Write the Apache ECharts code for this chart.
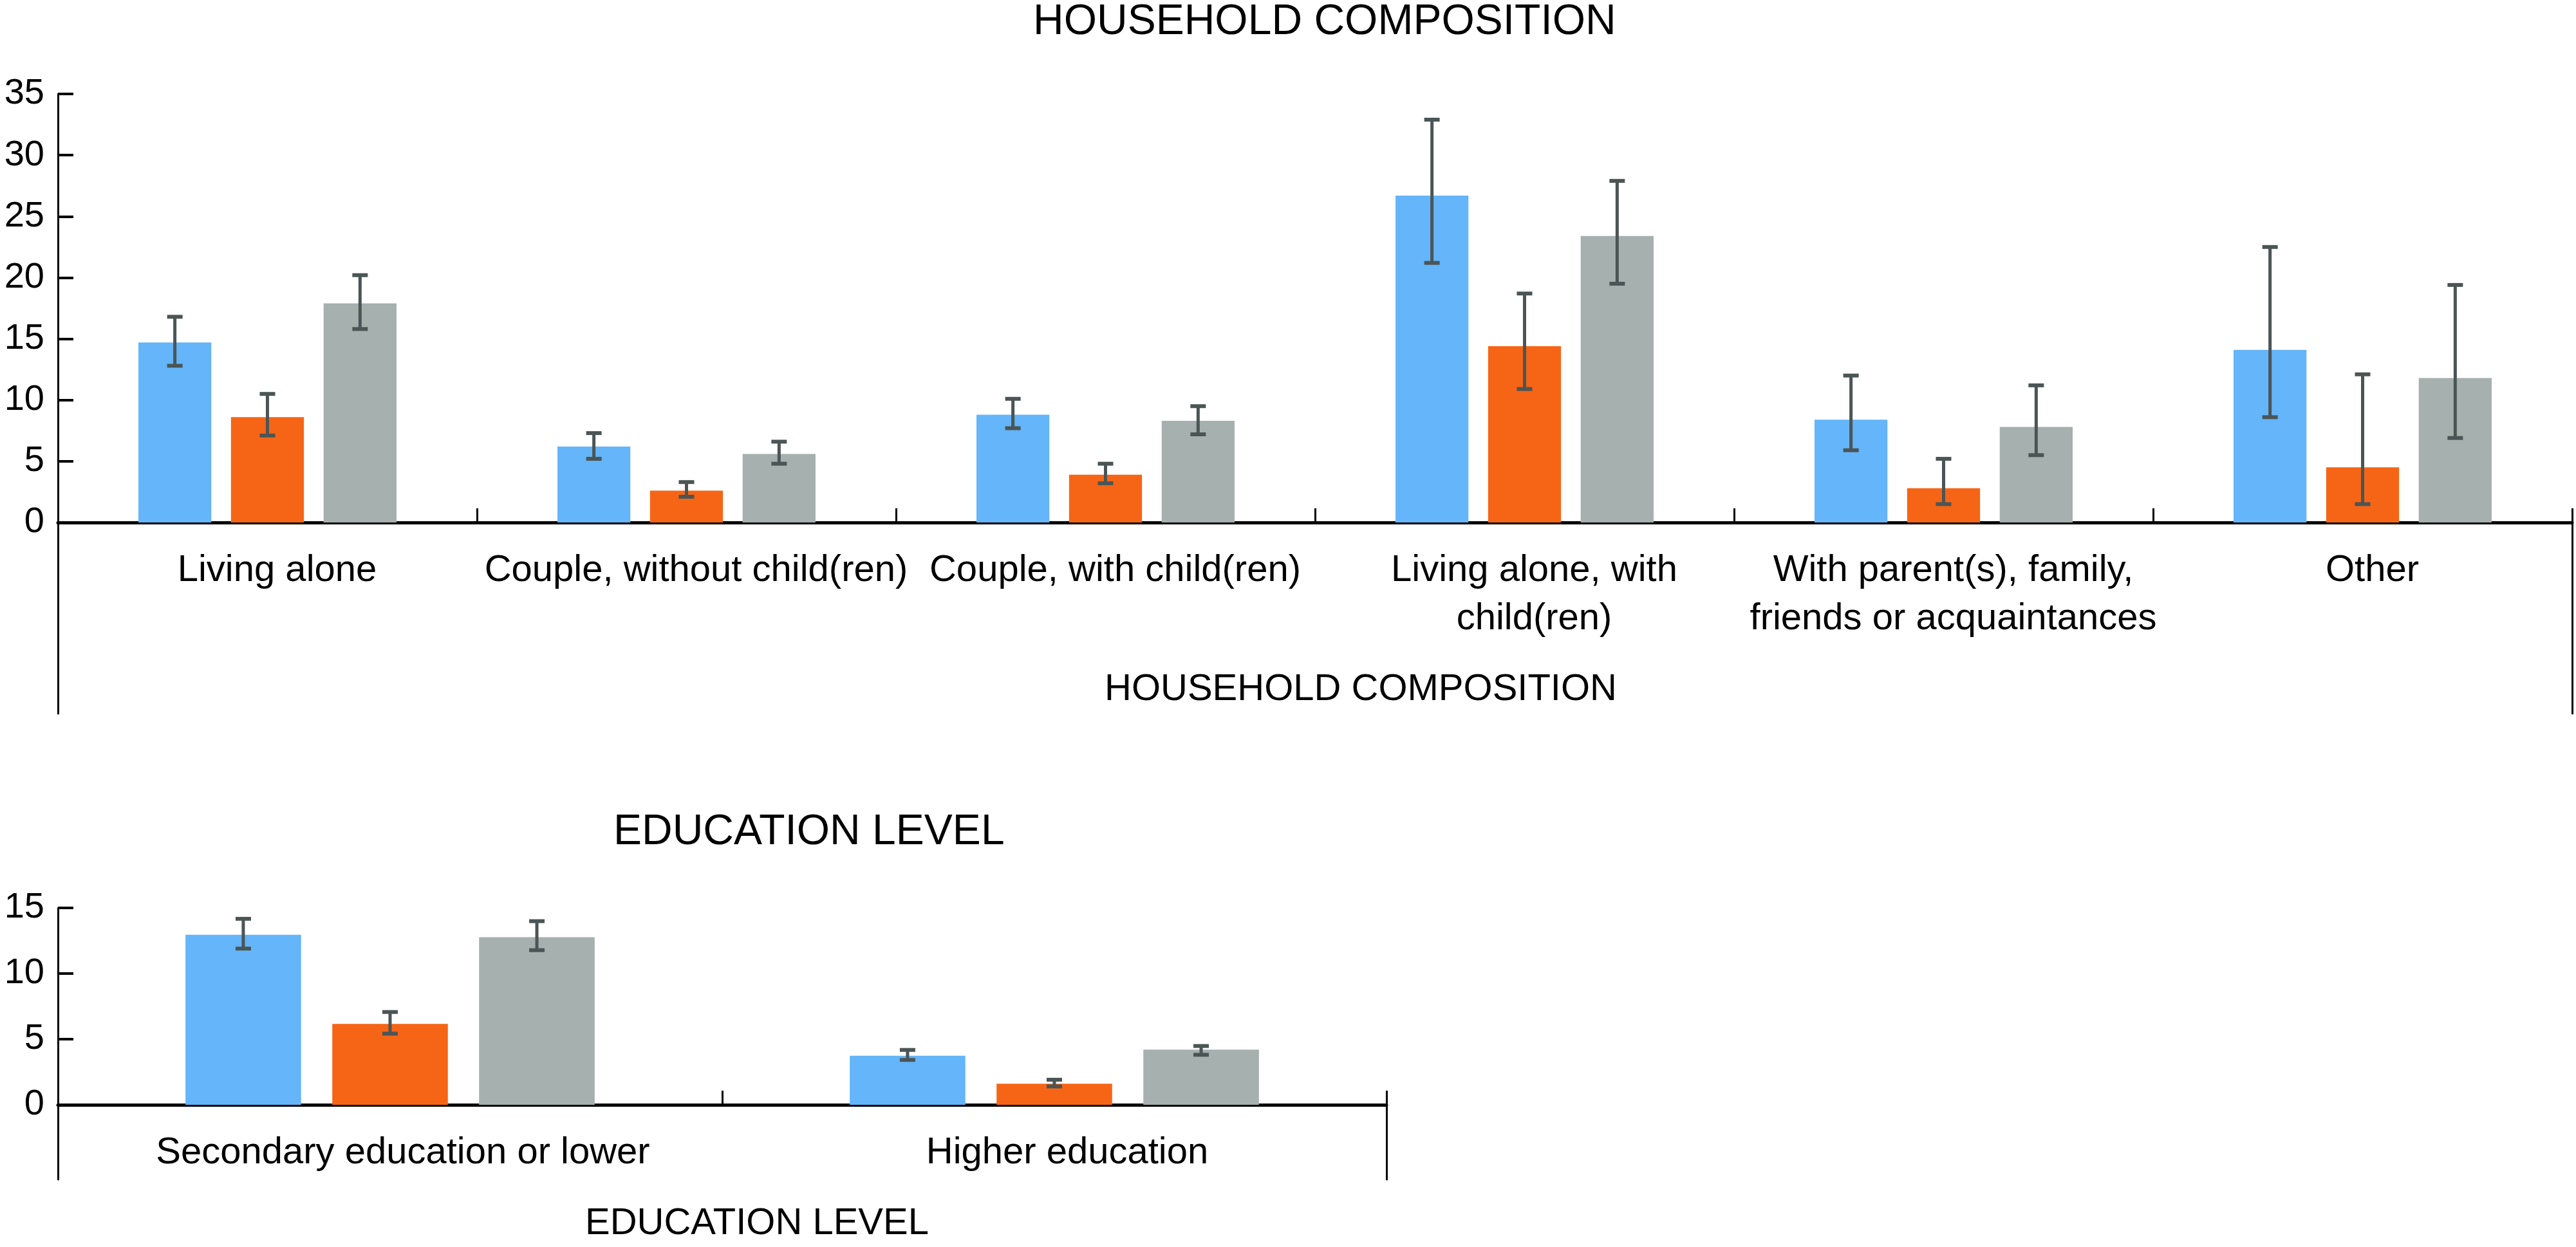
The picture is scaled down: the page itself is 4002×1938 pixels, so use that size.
<!DOCTYPE html>
<html>
<head>
<meta charset="utf-8">
<script src="https://cdn.jsdelivr.net/npm/echarts/dist/echarts.min.js"></script>
<style>
  html, body { margin: 0; padding: 0; background: #fff; }
  #chart { width: 4002px; height: 1938px; }
</style>
</head>
<body>
<div id="chart"></div>
<script>
// household composition
var hhCategories = ['Living alone', 'Couple, without child(ren)', 'Couple, with child(ren)',
  'Living alone, with\nchild(ren)', 'With parent(s), family,\nfriends or acquaintances', 'Other']
var hhBlue = [14.7, 6.2, 8.8, 26.7, 8.4, 14.1]
var hhBlueLow = [12.8, 5.2, 7.7, 21.2, 5.9, 8.6]
var hhBlueHigh = [16.8, 7.3, 10.1, 32.9, 12.0, 22.5]
var hhOrange = [8.6, 2.6, 3.9, 14.4, 2.8, 4.5]
var hhOrangeLow = [7.1, 2.1, 3.2, 10.9, 1.5, 1.5]
var hhOrangeHigh = [10.5, 3.3, 4.8, 18.7, 5.2, 12.1]
var hhGray = [17.9, 5.6, 8.3, 23.4, 7.8, 11.8]
var hhGrayLow = [15.8, 4.8, 7.2, 19.5, 5.5, 6.9]
var hhGrayHigh = [20.2, 6.6, 9.5, 27.9, 11.2, 19.4]

// education level
var eduCategories = ['Secondary education or lower', 'Higher education']
var eduBlue = [12.95, 3.74]
var eduBlueLow = [11.9, 3.42]
var eduBlueHigh = [14.17, 4.18]
var eduOrange = [6.16, 1.61]
var eduOrangeLow = [5.42, 1.40]
var eduOrangeHigh = [7.07, 1.91]
var eduGray = [12.77, 4.20]
var eduGrayLow = [11.78, 3.81]
var eduGrayHigh = [13.99, 4.48]

var hhTicks = { min: 0, max: 35, interval: 5 }
var eduTicks = { min: 0, max: 15, interval: 5 }

var BLUE = '#64B5F9'
var ORANGE = '#F66516'
var GRAY = '#A5B0AF'
var ERR = '#4B5555'
var FONT = 'Liberation Sans'
var BAR_W = 0.174
var BAR_GAP = 0.27

var myChart = echarts.init(document.getElementById('chart'))

function errData(low, high) {
  return low.map(function(v, i) {
    return [i, v, high[i]]
  })
}

// error bar drawn on top of bar k (0,1,2) of each category
function errRender(k) {
  return function(params, api) {
    var x = api.value(0)
    var lo = api.coord([x, api.value(1)])
    var hi = api.coord([x, api.value(2)])
    var band = api.size([1, 0])[0]
    var cx = lo[0] + (k - 1) * band * BAR_W * (1 + BAR_GAP)
    var cap = 12
    var st = { stroke: ERR, lineWidth: 6 }
    return {
      type: 'group',
      children: [
        { type: 'line', shape: { x1: cx, y1: hi[1], x2: cx, y2: lo[1] }, style: { stroke: ERR, lineWidth: 5 } },
        { type: 'line', shape: { x1: cx - cap, y1: hi[1], x2: cx + cap, y2: hi[1] }, style: st },
        { type: 'line', shape: { x1: cx - cap, y1: lo[1], x2: cx + cap, y2: lo[1] }, style: st }
      ]
    }
  }
}

function catAxis(grid, cats, pad, name, namePad, nameGap) {
  return {
    type: 'category',
    gridIndex: grid,
    data: cats,
    axisLine: { show: true, lineStyle: { color: '#000', width: 5 } },
    axisTick: { show: true, inside: true, length: 22, interval: 0, lineStyle: { color: '#000', width: 3 } },
    axisLabel: {
      interval: 0, color: '#000', fontSize: 58, fontFamily: FONT,
      lineHeight: 75, margin: 37, padding: [0, 0, 0, pad]
    },
    name: name,
    nameLocation: 'middle',
    nameGap: nameGap,
    nameTextStyle: { color: '#000', fontSize: 58, fontFamily: FONT, lineHeight: 70, padding: [0, 0, 0, namePad] }
  }
}

function valAxis(grid, t) {
  return {
    type: 'value',
    gridIndex: grid,
    min: t.min,
    max: t.max,
    interval: t.interval,
    splitLine: { show: false },
    axisLine: { show: true, lineStyle: { color: '#000', width: 3 } },
    axisTick: { show: true, inside: true, length: 24, lineStyle: { color: '#000', width: 4 } },
    axisLabel: { color: '#000', fontSize: 56, fontFamily: FONT, margin: 21 }
  }
}

// plain vertical frame line below the axis
function frameAxis(grid, pos) {
  return {
    type: 'value',
    gridIndex: grid,
    position: pos,
    min: 0,
    max: 1,
    axisLine: { show: true, onZero: false, lineStyle: { color: '#000', width: 3 } },
    axisTick: { show: false },
    axisLabel: { show: false },
    splitLine: { show: false }
  }
}

function hiddenX(grid) {
  return { type: 'value', gridIndex: grid, show: false, min: 0, max: 1 }
}

function bars(xi, yi, data, color) {
  return {
    type: 'bar',
    xAxisIndex: xi,
    yAxisIndex: yi,
    data: data,
    barWidth: (BAR_W * 100) + '%',
    barGap: (BAR_GAP * 100) + '%',
    itemStyle: { color: color },
    silent: true
  }
}

function errs(xi, yi, low, high, k) {
  return {
    type: 'custom',
    xAxisIndex: xi,
    yAxisIndex: yi,
    data: errData(low, high),
    renderItem: errRender(k),
    z: 5,
    silent: true
  }
}

option = {
  backgroundColor: '#fff',
  animation: false,
  title: [
    {
      text: 'HOUSEHOLD COMPOSITION', left: 1605, top: 2, padding: 0,
      textStyle: { color: '#000', fontSize: 66, fontWeight: 'normal', fontFamily: FONT, lineHeight: 66 }
    },
    {
      text: 'EDUCATION LEVEL', left: 953, top: 1261, padding: 0,
      textStyle: { color: '#000', fontSize: 66, fontWeight: 'normal', fontFamily: FONT, lineHeight: 66 }
    }
  ],
  grid: [
    { left: 90, right: 6, top: 146, bottom: 1126 },
    { left: 90, right: 6, top: 812, bottom: 829 },
    { left: 90, right: 1848, top: 1411, bottom: 220 },
    { left: 90, right: 1848, top: 1718, bottom: 105 }
  ],
  xAxis: [
    catAxis(0, hhCategories, 30, 'HOUSEHOLD COMPOSITION', 142, 225),
    hiddenX(1),
    catAxis(2, eduCategories, 40, 'EDUCATION LEVEL', 108, 150),
    hiddenX(3)
  ],
  yAxis: [
    valAxis(0, hhTicks),
    frameAxis(1, 'left'),
    frameAxis(1, 'right'),
    valAxis(2, eduTicks),
    frameAxis(3, 'left'),
    frameAxis(3, 'right')
  ],
  series: [
    bars(0, 0, hhBlue, BLUE),
    bars(0, 0, hhOrange, ORANGE),
    bars(0, 0, hhGray, GRAY),
    errs(0, 0, hhBlueLow, hhBlueHigh, 0),
    errs(0, 0, hhOrangeLow, hhOrangeHigh, 1),
    errs(0, 0, hhGrayLow, hhGrayHigh, 2),
    bars(2, 3, eduBlue, BLUE),
    bars(2, 3, eduOrange, ORANGE),
    bars(2, 3, eduGray, GRAY),
    errs(2, 3, eduBlueLow, eduBlueHigh, 0),
    errs(2, 3, eduOrangeLow, eduOrangeHigh, 1),
    errs(2, 3, eduGrayLow, eduGrayHigh, 2)
  ]
}
myChart.setOption(option)
window.onresize = function() {
  myChart.resize()
}
</script>
</body>
</html>
